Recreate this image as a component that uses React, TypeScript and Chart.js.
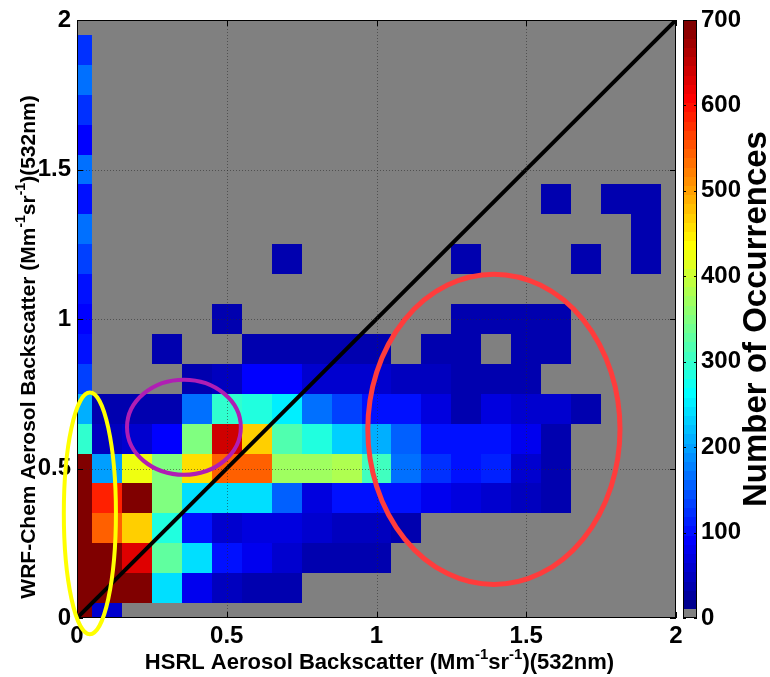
import { useEffect, useRef } from "react";
import { Chart, registerables } from "chart.js";

Chart.register(...registerables);

// Bin centres (Mm^-1 sr^-1), bins are 0.1 wide
const xBins = [0, 0.1, 0.2, 0.3, 0.4, 0.5, 0.6, 0.7, 0.8, 0.9, 1.0, 1.1, 1.2, 1.3, 1.4, 1.5, 1.6, 1.7, 1.8, 1.9, 2.0];
const yBins = [0, 0.1, 0.2, 0.3, 0.4, 0.5, 0.6, 0.7, 0.8, 0.9, 1.0, 1.1, 1.2, 1.3, 1.4, 1.5, 1.6, 1.7, 1.8, 1.9, 2.0];
const binWidth = 0.1;

// Occurrence counts, one row per WRF-Chem bin (columns follow xBins)
const countsY00 = [780, 59, 0, 0, 0, 0, 0, 0, 0, 0, 0, 0, 0, 0, 0, 0, 0, 0, 0, 0, 0];
const countsY01 = [800, 790, 740, 242, 81, 48, 38, 35, 0, 0, 0, 0, 0, 0, 0, 0, 0, 0, 0, 0, 0];
const countsY02 = [810, 760, 630, 328, 242, 102, 81, 59, 38, 38, 38, 0, 0, 0, 0, 0, 0, 0, 0, 0, 0];
const countsY03 = [790, 544, 468, 285, 102, 59, 70, 70, 59, 48, 48, 38, 0, 0, 0, 0, 0, 0, 0, 0, 0];
const countsY04 = [780, 587, 720, 350, 242, 242, 242, 156, 70, 102, 102, 102, 81, 70, 59, 48, 38, 0, 0, 0, 0];
const countsY05 = [730, 199, 425, 350, 458, 544, 544, 371, 371, 382, 307, 170, 124, 102, 113, 59, 38, 0, 0, 0, 0];
const countsY06 = [296, 48, 59, 91, 350, 641, 468, 318, 285, 231, 210, 156, 102, 102, 102, 81, 38, 0, 0, 0, 0];
const countsY07 = [210, 38, 38, 38, 170, 296, 290, 248, 170, 135, 102, 102, 70, 38, 70, 59, 59, 38, 0, 0, 0];
const countsY08 = [135, 0, 0, 0, 38, 48, 95, 95, 59, 59, 59, 48, 48, 38, 38, 38, 0, 0, 0, 0, 0];
const countsY09 = [102, 0, 0, 38, 0, 0, 38, 38, 38, 38, 38, 0, 38, 38, 0, 38, 38, 0, 0, 0, 0];
const countsY10 = [96, 0, 0, 0, 0, 38, 0, 0, 0, 0, 0, 0, 0, 38, 38, 38, 38, 0, 0, 0, 0];
const countsY11 = [102, 0, 0, 0, 0, 0, 0, 0, 0, 0, 0, 0, 0, 0, 0, 0, 0, 0, 0, 0, 0];
const countsY12 = [135, 0, 0, 0, 0, 0, 0, 38, 0, 0, 0, 0, 0, 38, 0, 0, 0, 38, 0, 38, 0];
const countsY13 = [170, 0, 0, 0, 0, 0, 0, 0, 0, 0, 0, 0, 0, 0, 0, 0, 0, 0, 0, 38, 0];
const countsY14 = [102, 0, 0, 0, 0, 0, 0, 0, 0, 0, 0, 0, 0, 0, 0, 0, 38, 0, 38, 38, 0];
const countsY15 = [170, 0, 0, 0, 0, 0, 0, 0, 0, 0, 0, 0, 0, 0, 0, 0, 0, 0, 0, 0, 0];
const countsY16 = [91, 0, 0, 0, 0, 0, 0, 0, 0, 0, 0, 0, 0, 0, 0, 0, 0, 0, 0, 0, 0];
const countsY17 = [124, 0, 0, 0, 0, 0, 0, 0, 0, 0, 0, 0, 0, 0, 0, 0, 0, 0, 0, 0, 0];
const countsY18 = [170, 0, 0, 0, 0, 0, 0, 0, 0, 0, 0, 0, 0, 0, 0, 0, 0, 0, 0, 0, 0];
const countsY19 = [124, 0, 0, 0, 0, 0, 0, 0, 0, 0, 0, 0, 0, 0, 0, 0, 0, 0, 0, 0, 0];
const countsY20 = [0, 0, 0, 0, 0, 0, 0, 0, 0, 0, 0, 0, 0, 0, 0, 0, 0, 0, 0, 0, 0];

const countRows = [
  countsY00, countsY01, countsY02, countsY03, countsY04, countsY05, countsY06,
  countsY07, countsY08, countsY09, countsY10, countsY11, countsY12, countsY13,
  countsY14, countsY15, countsY16, countsY17, countsY18, countsY19, countsY20,
];

const axisTicks = [0, 0.5, 1, 1.5, 2];
const axisTickLabels = ["0", "0.5", "1", "1.5", "2"];
const colorbarTicks = [0, 100, 200, 300, 400, 500, 600, 700];
const colorbarLabels = ["0", "100", "200", "300", "400", "500", "600", "700"];
const colorbarMax = 700;

// 1:1 reference line
const oneToOne = [
  { x: 0, y: 0 },
  { x: 2, y: 2 },
];

// Highlight ellipses (centre and semi-axes in data units)
const highlightEllipses = [
  { cx: 0.043, cy: 0.35, rx: 0.087, ry: 0.404, color: "#FFFF00", width: 4 },
  { cx: 0.357, cy: 0.638, rx: 0.19, ry: 0.159, color: "#B01EB4", width: 4 },
  { cx: 1.392, cy: 0.631, rx: 0.421, ry: 0.519, color: "#FF3C3C", width: 5 },
];

const FONT = "'Liberation Sans', Arial, Helvetica, sans-serif";
const EMPTY_GREY = "#808080";
const LEVELS = 65; // one grey level for empty bins + 64 jet levels

function jet64(i: number): string {
  const r = i >= 25 && i <= 40 ? (i - 24) / 16 : i >= 41 && i <= 55 ? 1 : i >= 56 ? (72 - i) / 16 : 0;
  const g = i >= 9 && i <= 24 ? (i - 8) / 16 : i >= 25 && i <= 39 ? 1 : i >= 40 && i <= 55 ? (56 - i) / 16 : 0;
  const b = i <= 8 ? (i + 8) / 16 : i <= 23 ? 1 : i <= 39 ? (40 - i) / 16 : 0;
  return `rgb(${Math.round(r * 255)},${Math.round(g * 255)},${Math.round(b * 255)})`;
}

function levelColor(k: number): string {
  return k < 1 ? EMPTY_GREY : jet64(Math.min(64, k));
}

function colorFor(v: number): string {
  const step = colorbarMax / LEVELS;
  return levelColor(Math.min(64, Math.floor(v / step)));
}

type Part = { t: string; sup?: boolean };

function drawRich(ctx: CanvasRenderingContext2D, parts: Part[], x: number, y: number, size: number, rotate: boolean) {
  const base = `bold ${size}px ${FONT}`;
  const small = `bold ${Math.round(size * 0.68)}px ${FONT}`;
  let total = 0;
  const widths = parts.map((p) => {
    ctx.font = p.sup ? small : base;
    const w = ctx.measureText(p.t).width;
    total += w;
    return w;
  });
  ctx.save();
  ctx.translate(x, y);
  if (rotate) ctx.rotate(-Math.PI / 2);
  ctx.fillStyle = "#000";
  ctx.textBaseline = "middle";
  ctx.textAlign = "left";
  let cx = -total / 2;
  parts.forEach((p, i) => {
    ctx.font = p.sup ? small : base;
    ctx.fillText(p.t, cx, p.sup ? -size * 0.38 : 0);
    cx += widths[i];
  });
  ctx.restore();
}

// fixed axis sizes; label overflow is absorbed by the outer margins
function fixSize(prop: "width" | "height", size: number) {
  return (s: any) => {
    s[prop] = size;
    s.paddingLeft = 0;
    s.paddingRight = 0;
    s.paddingTop = 0;
    s.paddingBottom = 0;
  };
}

const heatmapPlugin = {
  id: "heatmapCells",
  beforeDraw(chart: any) {
    const { ctx, chartArea: a } = chart;
    ctx.save();
    ctx.fillStyle = EMPTY_GREY;
    ctx.fillRect(a.left, a.top, a.right - a.left, a.bottom - a.top);
    ctx.restore();
  },
  beforeDatasetsDraw(chart: any) {
    const { ctx, chartArea: a, scales } = chart;
    const xs = scales.x;
    const ys = scales.y;
    const cells = chart.data.datasets[0].data as { x: number; y: number; v: number }[];
    ctx.save();
    for (const c of cells) {
      if (c.v <= 0) continue;
      let x0 = xs.getPixelForValue(c.x - binWidth / 2);
      let x1 = xs.getPixelForValue(c.x + binWidth / 2);
      let y0 = ys.getPixelForValue(c.y + binWidth / 2);
      let y1 = ys.getPixelForValue(c.y - binWidth / 2);
      x0 = Math.max(a.left, x0);
      x1 = Math.min(a.right, x1);
      y0 = Math.max(a.top, y0);
      y1 = Math.min(a.bottom, y1);
      ctx.fillStyle = colorFor(c.v);
      const l = Math.round(x0);
      const t = Math.round(y0);
      ctx.fillRect(l, t, Math.round(x1) - l, Math.round(y1) - t);
    }
    ctx.restore();
  },
  afterDatasetsDraw(chart: any) {
    const { ctx, chartArea: a, scales } = chart;
    ctx.save();
    ctx.strokeStyle = "rgba(40,40,40,0.55)";
    ctx.lineWidth = 1;
    ctx.setLineDash([1, 2]);
    for (const v of axisTicks) {
      if (v <= 0 || v >= 2) continue;
      const px = Math.round(scales.x.getPixelForValue(v)) + 0.5;
      ctx.beginPath();
      ctx.moveTo(px, a.top);
      ctx.lineTo(px, a.bottom);
      ctx.stroke();
      const py = Math.round(scales.y.getPixelForValue(v)) + 0.5;
      ctx.beginPath();
      ctx.moveTo(a.left, py);
      ctx.lineTo(a.right, py);
      ctx.stroke();
    }
    ctx.restore();
  },
  afterDraw(chart: any) {
    const { ctx, chartArea: a, scales } = chart;
    const xs = scales.x;
    const ys = scales.y;
    const cb = scales.cb;

    // axes box with inward ticks
    ctx.save();
    ctx.strokeStyle = "#000";
    ctx.lineWidth = 1;
    ctx.strokeRect(a.left + 0.5, a.top + 0.5, a.right - a.left - 1, a.bottom - a.top - 1);
    const tl = 6;
    ctx.beginPath();
    for (const v of axisTicks) {
      const px = Math.round(xs.getPixelForValue(v)) + 0.5;
      ctx.moveTo(px, a.bottom);
      ctx.lineTo(px, a.bottom - tl);
      ctx.moveTo(px, a.top);
      ctx.lineTo(px, a.top + tl);
      const py = Math.round(ys.getPixelForValue(v)) + 0.5;
      ctx.moveTo(a.left, py);
      ctx.lineTo(a.left + tl, py);
      ctx.moveTo(a.right, py);
      ctx.lineTo(a.right - tl, py);
    }
    ctx.stroke();
    ctx.restore();

    // highlight ellipses
    ctx.save();
    for (const e of highlightEllipses) {
      const cx = xs.getPixelForValue(e.cx);
      const cy = ys.getPixelForValue(e.cy);
      const rx = Math.abs(xs.getPixelForValue(e.cx + e.rx) - cx);
      const ry = Math.abs(ys.getPixelForValue(e.cy + e.ry) - cy);
      ctx.beginPath();
      ctx.ellipse(cx, cy, rx, ry, 0, 0, Math.PI * 2);
      ctx.strokeStyle = e.color;
      ctx.lineWidth = e.width;
      ctx.stroke();
    }
    ctx.restore();

    // colour bar
    const cbLeft = a.right + 7;
    const cbW = 14;
    const step = colorbarMax / LEVELS;
    ctx.save();
    for (let k = 0; k < LEVELS; k++) {
      const yTop = cb.getPixelForValue((k + 1) * step);
      const yBot = cb.getPixelForValue(k * step);
      ctx.fillStyle = levelColor(k);
      ctx.fillRect(cbLeft, Math.floor(yTop), cbW, Math.ceil(yBot) - Math.floor(yTop));
    }
    ctx.strokeStyle = "#000";
    ctx.lineWidth = 1;
    ctx.strokeRect(cbLeft + 0.5, cb.top + 0.5, cbW - 1, cb.bottom - cb.top - 1);
    ctx.beginPath();
    for (const v of colorbarTicks) {
      const py = Math.round(cb.getPixelForValue(v)) + 0.5;
      ctx.moveTo(cbLeft, py);
      ctx.lineTo(cbLeft + 3, py);
      ctx.moveTo(cbLeft + cbW, py);
      ctx.lineTo(cbLeft + cbW - 3, py);
    }
    ctx.stroke();
    ctx.restore();

    // axis titles
    const midY = (a.top + a.bottom) / 2;
    drawRich(
      ctx,
      [{ t: "HSRL Aerosol Backscatter (Mm" }, { t: "-1", sup: true }, { t: "sr" }, { t: "-1", sup: true }, { t: ")(532nm)" }],
      (a.left + a.right) / 2 + 3,
      a.bottom + 45,
      22,
      false
    );
    drawRich(
      ctx,
      [{ t: "WRF-Chem Aerosol Backscatter (Mm" }, { t: "-1", sup: true }, { t: "sr" }, { t: "-1", sup: true }, { t: ")(532nm)" }],
      29,
      midY + 28,
      21,
      true
    );
    drawRich(ctx, [{ t: "Number of Occurrences" }], 757, midY, 33, true);
  },
};

export default function App() {
  const canvasRef = useRef<HTMLCanvasElement | null>(null);

  useEffect(() => {
    const canvas = canvasRef.current;
    if (!canvas) return;

    const cells: { x: number; y: number; v: number }[] = [];
    yBins.forEach((yv, j) => {
      xBins.forEach((xv, i) => {
        cells.push({ x: xv, y: yv, v: countRows[j][i] });
      });
    });

    const tickFont = { family: FONT, size: 24, weight: "bold" as const };

    const chart = new Chart(canvas, {
      type: "scatter",
      data: {
        datasets: [
          {
            label: "Occurrences",
            data: cells,
            pointRadius: 0,
            pointHoverRadius: 0,
          },
          {
            label: "1:1",
            data: oneToOne,
            showLine: true,
            borderColor: "#000",
            borderWidth: 4,
            pointRadius: 0,
            pointHoverRadius: 0,
          },
        ],
      },
      options: {
        responsive: false,
        animation: false,
        events: [],
        layout: { padding: { top: 20, left: 0, right: 0, bottom: 0 } },
        plugins: {
          legend: { display: false },
          tooltip: { enabled: false },
        },
        scales: {
          x: {
            type: "linear",
            min: 0,
            max: 2,
            position: "bottom",
            grid: { display: false, drawTicks: false },
            border: { display: false },
            afterBuildTicks: (s: any) => {
              s.ticks = axisTicks.map((v) => ({ value: v }));
            },
            afterFit: fixSize("height", 59),
            ticks: {
              font: tickFont,
              color: "#000",
              padding: 4,
              maxRotation: 0,
              autoSkip: false,
              callback: (_v: any, i: number) => axisTickLabels[i],
            },
          },
          y: {
            type: "linear",
            min: 0,
            max: 2,
            position: "left",
            grid: { display: false, drawTicks: false },
            border: { display: false },
            afterBuildTicks: (s: any) => {
              s.ticks = axisTicks.map((v) => ({ value: v }));
            },
            afterFit: fixSize("width", 77),
            ticks: {
              font: tickFont,
              color: "#000",
              padding: 6,
              autoSkip: false,
              callback: (_v: any, i: number) => axisTickLabels[i],
            },
          },
          cb: {
            type: "linear",
            min: 0,
            max: colorbarMax,
            position: "right",
            grid: { display: false, drawTicks: true, tickLength: 21 },
            border: { display: false },
            afterBuildTicks: (s: any) => {
              s.ticks = colorbarTicks.map((v) => ({ value: v }));
            },
            afterFit: fixSize("width", 94),
            ticks: {
              font: tickFont,
              color: "#000",
              padding: 4,
              autoSkip: false,
              callback: (_v: any, i: number) => colorbarLabels[i],
            },
          },
        },
      },
      plugins: [heatmapPlugin],
    });

    return () => chart.destroy();
  }, []);

  return (
    <div style={{ position: "absolute", left: 0, top: 0, width: 770, height: 677, background: "#fff" }}>
      <canvas ref={canvasRef} width={770} height={677} />
    </div>
  );
}
